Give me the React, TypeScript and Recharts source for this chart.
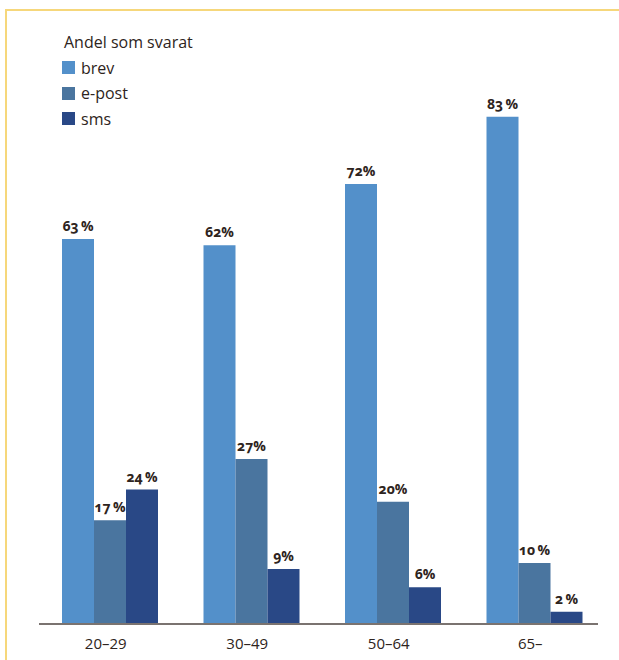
import { BarChart, Bar, XAxis, YAxis, LabelList } from "recharts";

const categories = ["20–29", "30–49", "50–64", "65–"];
const brev = [63, 62, 72, 83];
const epost = [17, 27, 20, 10];
// bar heights as drawn in the picture (the 20–29 sms bar is drawn shorter than its 24 % label)
const sms = [22, 9, 6, 2];
const brevLabels = ["63\u2009%", "62%", "72%", "83\u2009%"];
const epostLabels = ["17\u2009%", "27%", "20%", "10\u2009%"];
const smsLabels = ["24\u2009%", "9%", "6%", "2\u2009%"];

const legendTitle = "Andel som svarat";
const seriesNames = ["brev", "e-post", "sms"];

const colors = {
  brev: "#5390ca",
  epost: "#4a759f",
  sms: "#294886",
  text: "#2e2420",
  axis: "#7a7370",
  frame: "#f6d77b",
};

const font = "'Open Sans', sans-serif";

const data = categories.map((c, i) => ({
  cat: c,
  brev: brev[i],
  epost: epost[i],
  sms: sms[i],
  brevLabel: brevLabels[i],
  epostLabel: epostLabels[i],
  smsLabel: smsLabels[i],
}));

const labelStyle = {
  fill: colors.text,
  fontSize: 14,
  fontWeight: 700,
  fontFamily: font,
  fontVariantNumeric: "oldstyle-nums",
};

function LegendBox() {
  const swatches = [colors.brev, colors.epost, colors.sms];
  return (
    <div
      style={{
        position: "absolute",
        top: 30,
        left: 62,
        fontFamily: font,
        color: colors.text,
        fontSize: 16,
      }}
    >
      <div style={{ marginLeft: 2, height: 25, lineHeight: "25px" }}>{legendTitle}</div>
      {seriesNames.map((name, i) => (
        <div key={name} style={{ display: "flex", alignItems: "center", height: 25.5 }}>
          <span
            style={{
              width: 13,
              height: 13,
              background: swatches[i],
              display: "inline-block",
              marginRight: 6,
            }}
          />
          {name}
        </div>
      ))}
    </div>
  );
}

export default function App() {
  return (
    <div
      style={{
        position: "absolute",
        top: 0,
        left: 0,
        width: 619,
        height: 660,
        background: "#fff",
        overflow: "hidden",
      }}
    >
      <div
        style={{
          position: "absolute",
          left: 5,
          top: 9,
          width: 620,
          height: 660,
          borderLeft: `2px solid ${colors.frame}`,
          borderTop: `2px solid ${colors.frame}`,
        }}
      />
      <BarChart
        width={619}
        height={660}
        data={data}
        barSize={32}
        barGap={0}
        margin={{ top: 13, right: 14, bottom: 6, left: 39 }}
        style={{ position: "absolute", top: 0, left: 0 }}
      >
        <XAxis
          dataKey="cat"
          height={30}
          tickLine={false}
          axisLine={{ stroke: colors.axis, strokeWidth: 2, strokeDasharray: "559 100" }}
          tick={{ fill: colors.text, fontSize: 15, fontFamily: font, dx: -4 }}
          tickMargin={8}
        />
        <YAxis hide domain={[0, 100]} />
        <Bar dataKey="brev" fill={colors.brev} isAnimationActive={false}>
          <LabelList dataKey="brevLabel" position="top" offset={8} style={labelStyle} />
        </Bar>
        <Bar dataKey="epost" fill={colors.epost} isAnimationActive={false}>
          <LabelList dataKey="epostLabel" position="top" offset={8} style={labelStyle} />
        </Bar>
        <Bar dataKey="sms" fill={colors.sms} isAnimationActive={false}>
          <LabelList dataKey="smsLabel" position="top" offset={8} style={labelStyle} />
        </Bar>
      </BarChart>
      <LegendBox />
    </div>
  );
}
